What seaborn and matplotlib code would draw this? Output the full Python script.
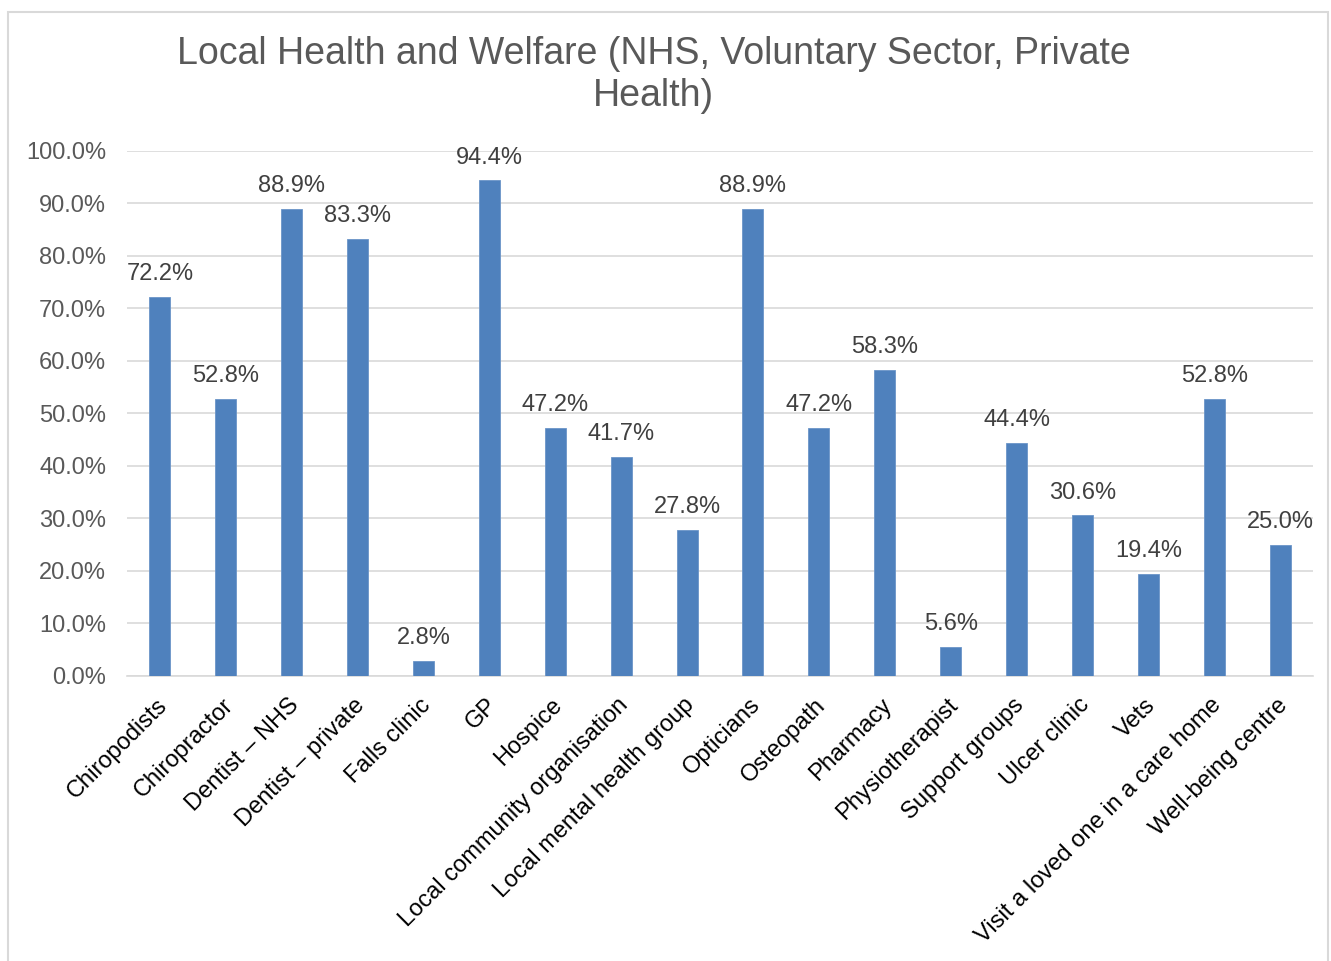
import matplotlib
matplotlib.use("Agg")
import matplotlib.pyplot as plt
import seaborn as sns
import pandas as pd
from matplotlib.patches import Rectangle
from matplotlib.transforms import ScaledTranslation

categories = [
    "Chiropodists", "Chiropractor", "Dentist \u2013 NHS", "Dentist \u2013 private",
    "Falls clinic", "GP", "Hospice", "Local community organisation",
    "Local mental health group", "Opticians", "Osteopath", "Pharmacy",
    "Physiotherapist", "Support groups", "Ulcer clinic", "Vets",
    "Visit a loved one in a care home", "Well-being centre",
]
values = [72.2, 52.8, 88.9, 83.3, 2.8, 94.4, 47.2, 41.7, 27.8, 88.9,
          47.2, 58.3, 5.6, 44.4, 30.6, 19.4, 52.8, 25.0]
y_ticks = [0, 10, 20, 30, 40, 50, 60, 70, 80, 90, 100]
title = "Local Health and Welfare (NHS, Voluntary Sector, Private\nHealth)"

sns.set_style("white")
plt.rcParams["font.family"] = ["Liberation Sans", "DejaVu Sans"]

df = pd.DataFrame({"category": categories, "value": values})

fig = plt.figure(figsize=(13.31, 9.61), dpi=100)
ax = fig.add_axes([0.0954, 0.2966, 0.8911, 0.5463])

sns.barplot(data=df, x="category", y="value", color="#4F81BD",
            width=0.32, saturation=1, ax=ax, zorder=3,
            edgecolor="#6b95c8", linewidth=0.6)

ax.set_ylim(0, 100)
ax.set_xlim(-0.5, len(categories) - 0.5)
ax.set_yticks(y_ticks)
ax.set_yticklabels([f"{t:.1f}%" for t in y_ticks], fontsize=17, color="#595959")
ax.yaxis.grid(True, color="#d9d9d9", linewidth=1.2, zorder=0)
ax.set_axisbelow(True)
for s in ["top", "right", "left"]:
    ax.spines[s].set_visible(False)
ax.spines["bottom"].set_color("#d9d9d9")
ax.spines["bottom"].set_linewidth(1.2)
ax.tick_params(axis="y", length=0, pad=15)
ax.tick_params(axis="x", length=0, pad=0)
ax.set_xlabel("")
ax.set_ylabel("")

ax.set_xticks(range(len(categories)))
ax.set_xticklabels(categories, rotation=45, ha="right", va="top",
                   rotation_mode="anchor", fontsize=17, color="#000000")
offset = ScaledTranslation(-0.04, -0.18, fig.dpi_scale_trans)
for lbl in ax.get_xticklabels():
    lbl.set_transform(lbl.get_transform() + offset)

for i, v in enumerate(values):
    ax.annotate(f"{v:.1f}%", (i, v), xytext=(0, 8.5), textcoords="offset points",
                ha="center", va="bottom", fontsize=17, color="#404040")

fig.text(0.491, 0.922, title, ha="center", va="center", fontsize=27,
         color="#595959", linespacing=1.2)

fig.patches.append(Rectangle((8 / 1331, -0.01), (1328 - 8) / 1331, 1 - 12 / 961 + 0.01,
                             transform=fig.transFigure, fill=False,
                             edgecolor="#d9d9d9", linewidth=1.5))

fig.savefig("out.png", dpi=100, facecolor="white")
